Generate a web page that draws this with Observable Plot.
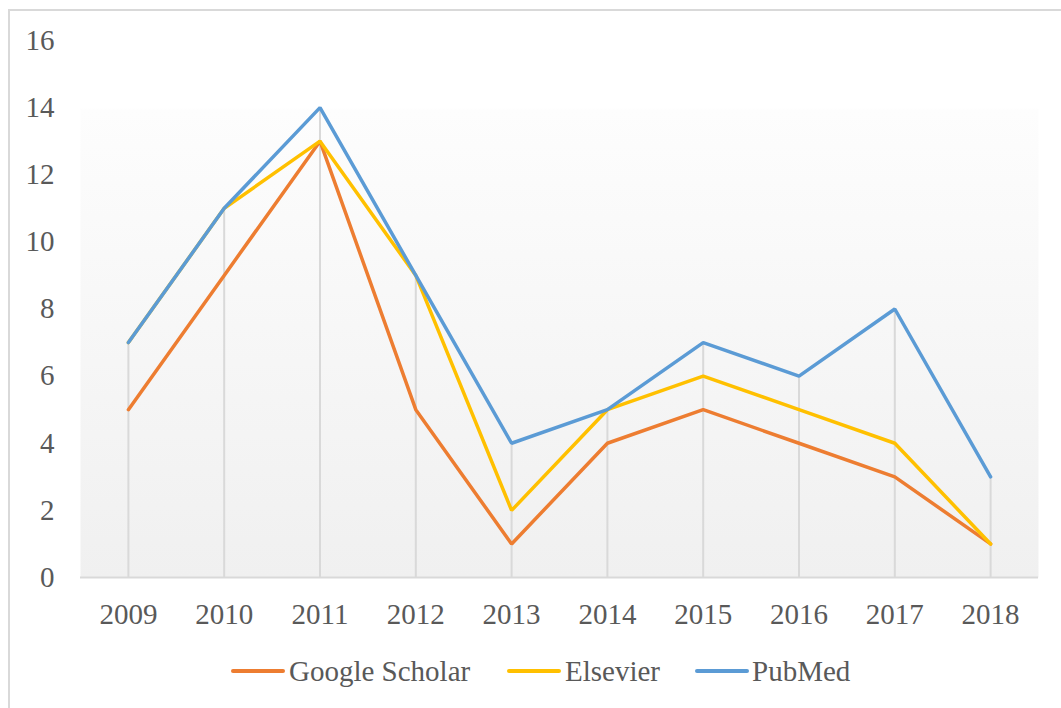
<!DOCTYPE html>
<html>
<head>
<meta charset="utf-8">
<script src="https://cdn.jsdelivr.net/npm/d3@7"></script>
<script src="https://cdn.jsdelivr.net/npm/@observablehq/plot@0.6"></script>
<style>
  html, body { margin: 0; padding: 0; background: #fff; overflow: hidden; }
  #wrap { position: relative; width: 1061px; height: 708px; font-family: "Liberation Serif", "Times New Roman", serif; }
  #border { position: absolute; left: 8px; top: 9px; width: 1100px; height: 760px; border-left: 2px solid #d9d9d9; border-top: 2px solid #d9d9d9; box-sizing: border-box; }
  #chart { position: absolute; left: 0; top: 0; }
  #chart svg text { font-family: "Liberation Serif", "Times New Roman", serif; }
  #legend { position: absolute; left: 0; top: 640px; width: 1061px; height: 68px; }
  .swatch { position: absolute; top: 29px; height: 4px; border-radius: 2px; }
  .label { position: absolute; top: 14px; font-size: 29px; line-height: 34px; color: #595959; white-space: nowrap; }
</style>
</head>
<body>
<div id="wrap">
  <div id="border"></div>
  <div id="chart"></div>
  <div id="legend"></div>
</div>
<script>
const years = ["2009","2010","2011","2012","2013","2014","2015","2016","2017","2018"];
const googleScholar = [5, 9, 13, 5, 1, 4, 5, 4, 3, 1];
const elsevier = [7, 11, 13, 9, 2, 5, 6, 5, 4, 1];
const pubMed = [7, 11, 14, 9, 4, 5, 7, 6, 8, 3];
const seriesNames = ["Google Scholar", "Elsevier", "PubMed"];
const seriesColors = ["#ED7D31", "#FFC000", "#5B9BD5"];
const yTicks = [0, 2, 4, 6, 8, 10, 12, 14, 16];

const seriesValues = [googleScholar, elsevier, pubMed];
const rows = [];
seriesNames.forEach((name, s) => {
  years.forEach((yr, i) => rows.push({series: name, year: yr, value: seriesValues[s][i]}));
});
const drops = years.map((yr, i) => ({year: yr, top: Math.max(googleScholar[i], elsevier[i], pubMed[i])}));

const serif = "'Liberation Serif', 'Times New Roman', serif";
const plot = Plot.plot({
  width: 1061,
  height: 640,
  marginLeft: 80,
  marginRight: 23,
  marginTop: 40,
  marginBottom: 63,
  style: "font-family: 'Liberation Serif', 'Times New Roman', serif; font-size: 29px; color: #595959; background: transparent; overflow: visible;",
  x: {type: "point", domain: years, padding: 0.5, round: false, label: null},
  y: {domain: [0, 16], ticks: yTicks, label: null},
  color: {domain: seriesNames, range: seriesColors},
  marks: [
    () => {
      const ns = "http://www.w3.org/2000/svg";
      const defs = document.createElementNS(ns, "defs");
      defs.innerHTML = `<linearGradient id="bgGrad" x1="0" y1="0" x2="0" y2="1">
        <stop offset="0" stop-color="#ffffff"/>
        <stop offset="0.125" stop-color="#ffffff"/>
        <stop offset="0.13" stop-color="#fdfdfd"/>
        <stop offset="1" stop-color="#f0f0f0"/>
      </linearGradient>`;
      return defs;
    },
    Plot.frame({fill: "url(#bgGrad)", stroke: null}),
    Plot.ruleX(drops, {x: "year", y1: 0, y2: "top", stroke: "#d9d9d9", strokeWidth: 2}),
    Plot.ruleY([0], {stroke: "#d9d9d9", strokeWidth: 2}),
    Plot.axisY({ticks: yTicks, tickSize: 0, tickPadding: 26, label: null, fill: "#595959", fontFamily: serif, fontSize: 29}),
    Plot.axisX({tickSize: 0, tickPadding: 26, label: null, fill: "#595959", fontFamily: serif, fontSize: 29}),
    Plot.line(rows, {x: "year", y: "value", z: "series", stroke: "series", strokeWidth: 3.5, strokeLinejoin: "miter", strokeLinecap: "round"})
  ]
});
document.getElementById("chart").appendChild(plot);

// Legend
const legend = document.getElementById("legend");
const legendLayout = [
  {lineX: 231, lineW: 54, textX: 289},
  {lineX: 507, lineW: 54, textX: 565},
  {lineX: 695, lineW: 54, textX: 752}
];
seriesNames.forEach((name, i) => {
  const sw = document.createElement("div");
  sw.className = "swatch";
  sw.style.left = legendLayout[i].lineX + "px";
  sw.style.width = legendLayout[i].lineW + "px";
  sw.style.background = seriesColors[i];
  legend.appendChild(sw);
  const lb = document.createElement("div");
  lb.className = "label";
  lb.style.left = legendLayout[i].textX + "px";
  lb.textContent = name;
  legend.appendChild(lb);
});
</script>
</body>
</html>
